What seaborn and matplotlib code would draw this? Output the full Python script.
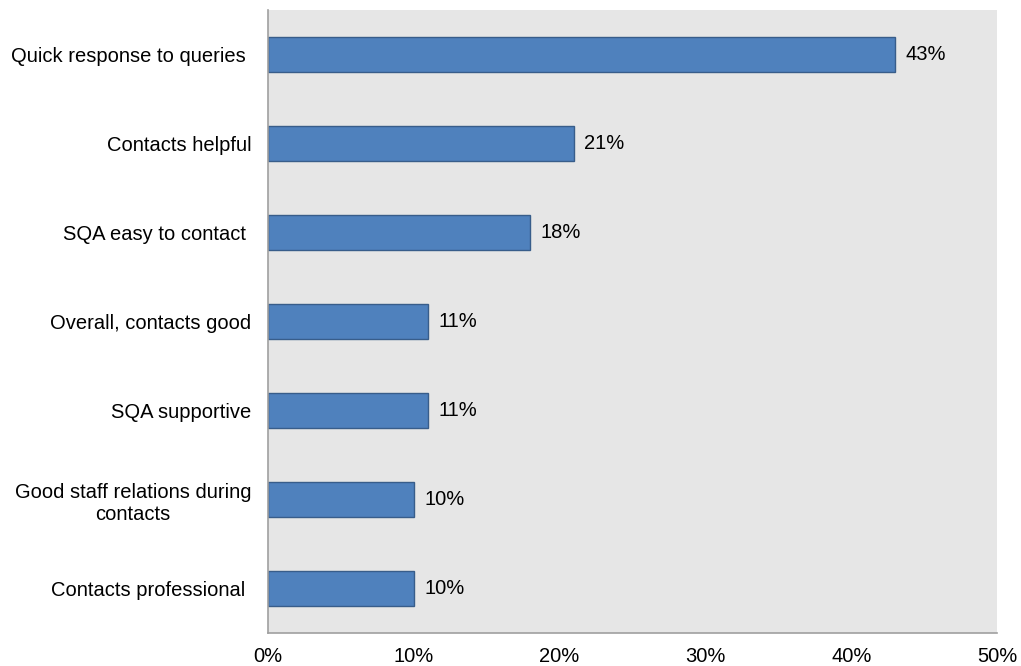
import numpy as np
import pandas as pd
import matplotlib.pyplot as plt
import seaborn as sns

categories = [
    "Quick response to queries ",
    "Contacts helpful",
    "SQA easy to contact ",
    "Overall, contacts good",
    "SQA supportive",
    "Good staff relations during\ncontacts",
    "Contacts professional ",
]
values = [43, 21, 18, 11, 11, 10, 10]
ticks = [0, 10, 20, 30, 40, 50]

sns.set_theme(style="white")
plt.rcParams["font.family"] = ["Liberation Sans", "DejaVu Sans"]
plt.rcParams["text.color"] = "black"
plt.rcParams["xtick.color"] = "black"
plt.rcParams["ytick.color"] = "black"

df = pd.DataFrame({"item": categories, "pct": values})
fs = 14.5

fig = plt.figure(figsize=(10.21, 6.66), dpi=100)
ax = fig.add_axes([268 / 1021, 33 / 666, 729 / 1021, 623 / 666])
sns.barplot(data=df, x="pct", y="item", color="#4F81BD", saturation=1,
            width=0.4, edgecolor="#385D8A", linewidth=1, ax=ax)
ax.set_facecolor("#E6E6E6")
ax.set_xlim(0, 50)
ax.set_ylim(6.5, -0.5)
ax.set_xticks(ticks)
ax.set_xticklabels([f"{t}%" for t in ticks], fontsize=fs)
ax.tick_params(axis="x", length=0, pad=10)
ax.tick_params(axis="y", length=0, pad=12)
for lab in ax.get_yticklabels():
    lab.set_fontsize(fs)
    lab.set_multialignment("center")
ax.set_xlabel("")
ax.set_ylabel("")
for s in ["top", "right"]:
    ax.spines[s].set_visible(False)
for s in ["left", "bottom"]:
    ax.spines[s].set_color("#A0A0A0")
    ax.spines[s].set_linewidth(1.2)

# value labels just past the bar ends
for i, v in enumerate(values):
    ax.text(v + 0.7, i, f"{v}%", va="center", ha="left", fontsize=fs)

fig.savefig("out.png", dpi=100)
